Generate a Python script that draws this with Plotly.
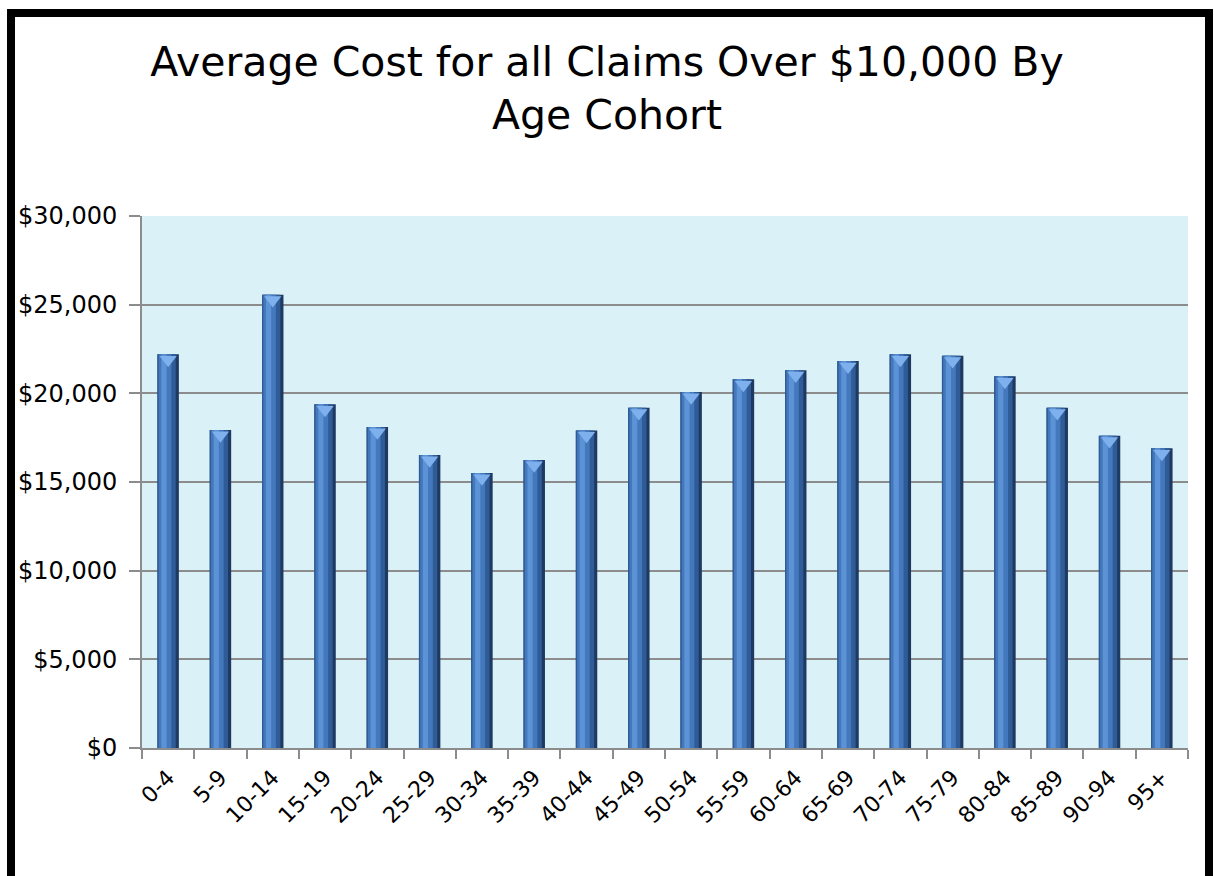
import plotly.graph_objects as go

categories = ["0-4", "5-9", "10-14", "15-19", "20-24", "25-29", "30-34", "35-39",
              "40-44", "45-49", "50-54", "55-59", "60-64", "65-69", "70-74",
              "75-79", "80-84", "85-89", "90-94", "95+"]
avg_cost = [22200, 17930, 25560, 19380, 18100, 16520, 15510, 16240,
            17910, 19190, 20080, 20790, 21300, 21820, 22200,
            22120, 20960, 19190, 17610, 16900]
y_ticks = [0, 5000, 10000, 15000, 20000, 25000, 30000]
y_tick_labels = ["$0", "$5,000", "$10,000", "$15,000", "$20,000", "$25,000", "$30,000"]

W, H = 1214, 876
L, R, T, B = 142, 26, 216, 128
pw, ph = W - L - R, H - T - B

fig = go.Figure()

# layered bars to imitate the cylinder shading
layers = [
    (0.41, -0.205, "#1E3A63"),
    (0.35, -0.205, "#2F5C97"),
    (0.24, -0.180, "#4478BC"),
    (0.10, -0.130, "#5C92D6"),
]
for w, off, col in layers:
    fig.add_trace(go.Bar(
        x=categories, y=avg_cost, width=w, offset=off,
        marker=dict(color=col, line=dict(width=0)),
        hoverinfo="skip", showlegend=False,
    ))

# bevelled top
fig.add_trace(go.Scatter(
    x=categories, y=[v - 300 for v in avg_cost], mode="markers",
    marker=dict(symbol="triangle-down", size=15, color="#7DB0EC",
                line=dict(width=0)),
    hoverinfo="skip", showlegend=False,
))

def px_x(p):
    return (p - L) / pw

def px_y(p):
    return (H - B - p) / ph

# outer black frame
fig.add_shape(type="line", xref="paper", yref="paper",
              x0=px_x(11), x1=px_x(11), y0=px_y(9), y1=px_y(900),
              line=dict(color="black", width=8))
fig.add_shape(type="line", xref="paper", yref="paper",
              x0=px_x(1209), x1=px_x(1209), y0=px_y(9), y1=px_y(900),
              line=dict(color="black", width=8))
fig.add_shape(type="line", xref="paper", yref="paper",
              x0=px_x(7), x1=px_x(1213), y0=px_y(13), y1=px_y(13),
              line=dict(color="black", width=8))

font_family = "'DejaVu Sans', sans-serif"

fig.update_layout(
    width=W, height=H,
    margin=dict(l=L, r=R, t=T, b=B),
    paper_bgcolor="white",
    plot_bgcolor="#DAF1F7",
    barmode="overlay",
    bargap=0.59,
    font=dict(family=font_family, color="black"),
    title=dict(
        text="Average Cost for all Claims Over $10,000 By<br>Age Cohort",
        x=0.5, xanchor="center", y=1 - 76 / H, yanchor="top",
        font=dict(size=41, family=font_family, color="black"),
    ),
    xaxis=dict(
        type="category",
        range=[-0.5, len(categories) - 0.5],
        tickangle=-45,
        tickson="boundaries",
        ticks="outside", ticklen=9, tickwidth=2, tickcolor="#8C8C8C",
        showline=True, linecolor="#8C8C8C", linewidth=2,
        showgrid=False,
        ticklabelstandoff=6,
        tickfont=dict(size=22, family=font_family, color="black"),
    ),
    yaxis=dict(
        range=[0, 30000],
        tickvals=y_ticks,
        ticktext=y_tick_labels,
        ticks="outside", ticklen=11, tickwidth=2, tickcolor="#8C8C8C",
        showline=True, linecolor="#8C8C8C", linewidth=2,
        showgrid=True, gridcolor="#8C8C8C", gridwidth=2,
        zeroline=False,
        ticklabelstandoff=7,
        tickfont=dict(size=24, family=font_family, color="black"),
    ),
)

fig.write_html("out.html", config={"displayModeBar": False},
               post_script="document.body.style.margin='0';")
